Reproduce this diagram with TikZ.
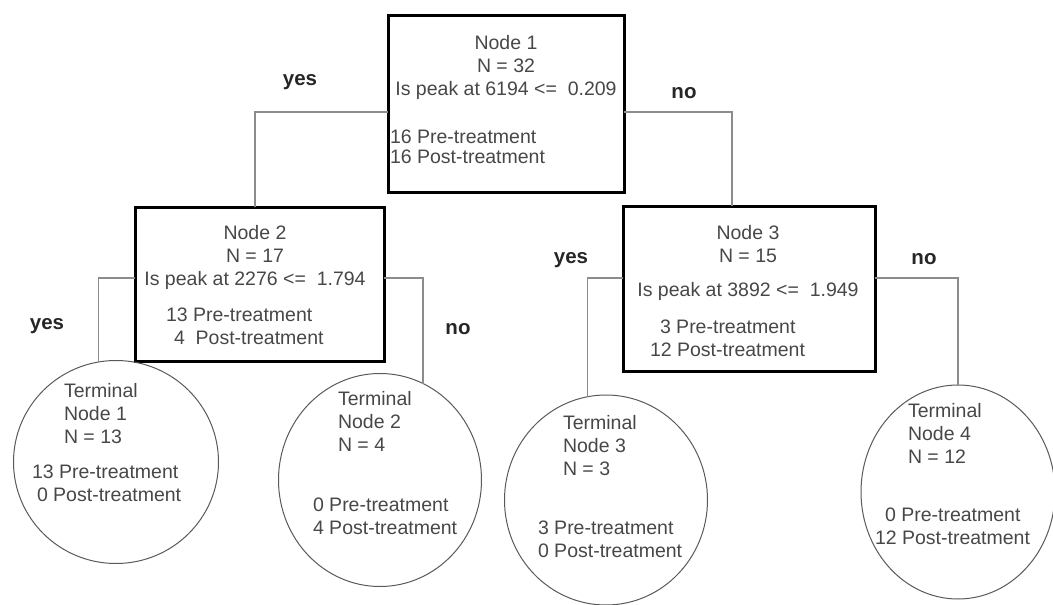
\documentclass[tikz,border=0pt]{standalone}
\usepackage{fontspec}
\setmainfont{Liberation Sans}
\usetikzlibrary{shapes.geometric}

\begin{document}
\begin{tikzpicture}[x=1pt,y=-1pt,
  every node/.style={inner sep=0pt,outer sep=0pt,text=black!72,font=\fontsize{19.5}{23}\selectfont},
  split/.style={draw=black,line width=3pt,rectangle},
  leaf/.style={draw=black!65,line width=1pt,ellipse},
  ans/.style={font=\bfseries\fontsize{20.5}{24}\selectfont,text=black!85},
  link/.style={draw=black!45,line width=1.3pt}]
\useasboundingbox (0,0) rectangle (1053,605);
\node[split,minimum width=236pt,minimum height=177pt] (n1) at (506,103.5) {};
\node[split,minimum width=249pt,minimum height=154pt] (n2) at (259.5,284) {};
\node[split,minimum width=252pt,minimum height=165pt] (n3) at (749,288.5) {};
\node[leaf,minimum width=205pt,minimum height=203pt] (t1) at (116,462) {};
\node[leaf,minimum width=203pt,minimum height=213pt] (t2) at (380,480) {};
\node[leaf,minimum width=203pt,minimum height=210pt] (t3) at (606,500) {};
\node[leaf,minimum width=194pt,minimum height=214pt] (t4) at (958,492) {};
\begin{scope}[every path/.style={link}]
\draw ([yshift=-8.5pt]n1.west) -| ([xshift=-4.5pt]n2.north);
\draw ([yshift=-8.5pt]n1.east) -| ([xshift=-17pt]n3.north);
\draw ([yshift=6pt]n2.west) -| (t1.100);
\draw ([yshift=6pt]n2.east) -| (t2.66);
\draw ([yshift=10.5pt]n3.west) -| (t3.100);
\draw ([yshift=10.5pt]n3.east) -| (t4.north);
\end{scope}
\node[anchor=north,align=center] (n1q) at (506,35) {Node 1\\N = 32\\Is peak at 6194 <=\ \ 0.209};
\node[anchor=north west,align=left] (n1c) at (390,130) {16 Pre-treatment\\[-3pt]16 Post-treatment};
\node[anchor=north,align=center] (n2q) at (255,225) {Node 2\\N = 17\\Is peak at 2276 <=\ \ 1.794};
\node[anchor=north west,align=left] (n2c) at (166,308) {13 Pre-treatment\\\hspace{8pt}4\ \ Post-treatment};
\node[anchor=north,align=center] (n3q) at (748,225) {Node 3\\N = 15\\[11pt]Is peak at 3892 <=\ \ 1.949};
\node[anchor=north west,align=left] (n3c) at (650,320) {\hspace{10pt}3 Pre-treatment\\12 Post-treatment};
\node[anchor=north west,align=left] (t1q) at (64,383) {Terminal\\Node 1\\N = 13};
\node[anchor=north west,align=left] (t1c) at (32,465) {13 Pre-treatment\\\hspace{5pt}0 Post-treatment};
\node[anchor=north west,align=left] (t2q) at (338,391) {Terminal\\Node 2\\N = 4};
\node[anchor=north west,align=left] (t2c) at (313,498) {0 Pre-treatment\\4 Post-treatment};
\node[anchor=north west,align=left] (t3q) at (563,415) {Terminal\\Node 3\\N = 3};
\node[anchor=north west,align=left] (t3c) at (538,521) {3 Pre-treatment\\0 Post-treatment};
\node[anchor=north west,align=left] (t4q) at (908,403) {Terminal\\Node 4\\N = 12};
\node[anchor=north west,align=left] (t4c) at (875,508) {\hspace{10pt}0 Pre-treatment\\12 Post-treatment};
\node[ans] (yes1) at (300,82) {yes};
\node[ans] (no1) at (684,93) {no};
\node[ans] (yes2) at (47,326) {yes};
\node[ans] (no2) at (458,329) {no};
\node[ans] (yes3) at (571,260) {yes};
\node[ans] (no3) at (924,259) {no};
\end{tikzpicture}
\end{document}
